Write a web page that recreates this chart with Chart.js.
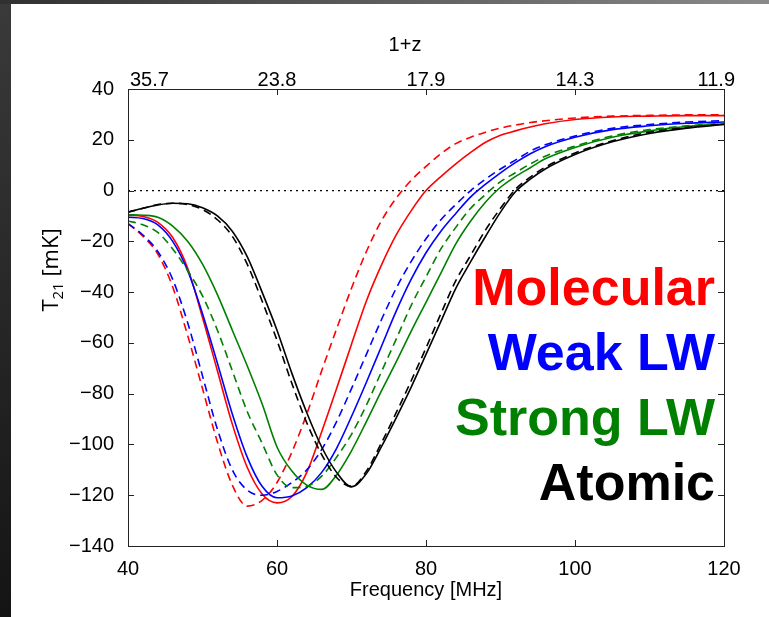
<!DOCTYPE html>
<html>
<head>
<meta charset="utf-8">
<script src="https://cdn.jsdelivr.net/npm/chart.js@4.4.0/dist/chart.umd.min.js"></script>
<style>
html, body { margin: 0; padding: 0; background: #1c1c1c; }
#wrap { width: 769px; height: 617px; }
</style>
</head>
<body>
<div id="wrap"><canvas id="line-chart" width="769" height="617"></canvas></div>
<script>
// frequency grid [MHz]
const freq = [40,42,44,46,48,50,52,54,56,58,60,62,64,66,68,70,72,74,76,78,80,82,84,86,88,90,92,94,96,100,105,110,115,120];

// T21 [mK], solid and dashed for every model
const molSolid  = [-9.7,-10.2,-12.5,-18.5,-30.5,-50,-71,-92,-109,-119.5,-123,-120.5,-111,-95,-78,-60.5,-43.5,-29.5,-17.5,-8,0,5.5,10.5,15,19,21.8,23.5,25,26.3,28,29,29.3,29.5,29.5];
const molDash   = [-13,-18,-25,-38,-57,-78,-99,-116,-124.3,-122,-115,-103,-88,-71,-54.5,-38.5,-24,-12,-3,4,9.5,14.5,18.5,21,23,24.6,25.8,26.8,27.5,28.6,29.3,29.6,29.8,29.8];
const weakSolid = [-10.5,-11,-13.5,-20,-31.5,-48.5,-68,-88,-105,-116.5,-121,-120.3,-117,-111,-101.5,-89,-75.5,-61.5,-47.5,-35,-24.5,-16,-9,-2.5,2.5,7,11,14.5,17.3,21,24,25.5,26.5,27];
const weakDash  = [-13,-17.5,-24,-35,-52,-73,-94,-110,-118,-120,-118.5,-115,-110,-102,-91,-78,-64.5,-51,-38.5,-28,-19,-11.5,-5.5,0,4.5,8.5,12,15.5,18,21.5,24.5,26,27,27.5];
const strongSolid = [-9.5,-9.7,-10.5,-14,-20,-29,-41,-55,-69,-84,-101,-110.5,-116,-117.7,-112,-102.5,-91,-79,-67.5,-55.5,-44,-32.5,-21,-12,-4.5,1.3,5.5,9,12.5,17,21,23.5,25.2,26.3];
const strongDash  = [-12,-13.5,-16.5,-23,-31.5,-41.5,-55,-71,-87,-99.5,-112,-117,-116.5,-112.5,-105,-96,-84.5,-71.5,-58.5,-45.3,-34,-23,-14.5,-7,-1.5,3.5,7,10.5,13.5,17.5,21.5,24,25.5,26.5];
const atomSolid = [-8.5,-7,-5.7,-5,-5.2,-6.8,-10,-16,-26,-40,-55,-72,-87.5,-101,-111,-116.7,-111.5,-101,-89.5,-77.5,-64.5,-51.5,-38.5,-28,-18,-8.5,-0.5,4.5,8.5,14.2,19.2,22.5,24.6,26];
const atomDash  = [-8.5,-7,-5.5,-5,-5.5,-7.5,-11.5,-18,-29,-43.5,-59,-76,-91.5,-104,-113,-116.5,-110.5,-99.5,-87.5,-75,-62,-48.5,-35.5,-25.5,-15.5,-7,0.5,5.3,9.2,14.8,19.6,23,24.8,26.2];

// zero reference line
const zeroX = [40, 120];
const zeroY = [0, 0];

// axis ticks
const xTicks = [40, 60, 80, 100, 120];
const topTickLabels = ['35.7', '23.8', '17.9', '14.3', '11.9'];
const topTitle = '1+z';
const yTicks = [40, 20, 0, -20, -40, -60, -80, -100, -120, -140];

// legend text
const legendNames  = ['Molecular', 'Weak LW', 'Strong LW', 'Atomic'];
const legendColors = ['#ff0000', '#0000ff', '#008000', '#000000'];

const pts = (xs, ys) => xs.map((x, i) => ({x: x, y: ys[i]}));

const fontFamily = "'Liberation Sans', Arial, sans-serif";
const tickFont = {family: fontFamily, size: 20};

function line(data, color, dashed) {
    return {
        data: pts(freq, data),
        borderColor: color,
        borderWidth: 1.6,
        borderDash: dashed ? [8, 5] : [],
        pointRadius: 0,
        fill: false,
        cubicInterpolationMode: 'monotone'
    };
}

const frame = {
    id: 'frame',
    beforeDraw(chart) {
        const c = chart.ctx;
        c.save();
        c.fillStyle = '#ffffff';
        c.fillRect(0, 0, chart.width, chart.height);
        let g = c.createLinearGradient(0, 0, 0, chart.height);
        g.addColorStop(0, '#3a3a3a');
        g.addColorStop(1, '#141414');
        c.fillStyle = g;
        c.fillRect(0, 0, 11, chart.height);
        g = c.createLinearGradient(0, 0, chart.width, 0);
        g.addColorStop(0, '#303030');
        g.addColorStop(1, '#8a8a8a');
        c.fillStyle = g;
        c.fillRect(0, 0, chart.width, 4);
        c.restore();
    },
    afterDraw(chart) {
        const c = chart.ctx;
        const a = chart.chartArea;
        const x = chart.scales.x, y = chart.scales.y;
        c.save();
        c.strokeStyle = '#222';
        c.lineWidth = 1;
        c.strokeRect(Math.round(a.left) + 0.5, Math.round(a.top) + 0.5, Math.round(a.right - a.left), Math.round(a.bottom - a.top));
        c.beginPath();
        xTicks.forEach(v => {
            const px = Math.round(x.getPixelForValue(v)) + 0.5;
            c.moveTo(px, a.bottom); c.lineTo(px, a.bottom - 6);
            c.moveTo(px, a.top); c.lineTo(px, a.top + 6);
        });
        yTicks.forEach(v => {
            const py = Math.round(y.getPixelForValue(v)) + 0.5;
            c.moveTo(a.left, py); c.lineTo(a.left + 6, py);
            c.moveTo(a.right, py); c.lineTo(a.right - 6, py);
        });
        c.stroke();

        // top 1+z axis labels and title
        c.fillStyle = '#000';
        c.font = '20px ' + fontFamily;
        c.textBaseline = 'alphabetic';
        xTicks.forEach((v, i) => {
            const px = x.getPixelForValue(v);
            if (i === 0) { c.textAlign = 'left'; c.fillText(topTickLabels[i], px + 2, a.top - 3); }
            else if (i === xTicks.length - 1) { c.textAlign = 'right'; c.fillText(topTickLabels[i], px + 11, a.top - 3); }
            else { c.textAlign = 'center'; c.fillText(topTickLabels[i], px, a.top - 3); }
        });
        c.textAlign = 'center';
        c.fillText(topTitle, (a.left + a.right) / 2 - 21, 51);

        // y axis title with subscript
        c.translate(50, 270);
        c.rotate(-Math.PI / 2);
        c.textAlign = 'left';
        const big = "22px 'Open Sans', 'DejaVu Sans', sans-serif";
        const small = "15px 'Open Sans', 'DejaVu Sans', sans-serif";
        c.font = big;
        const wT = c.measureText('T').width;
        c.font = small;
        const w21 = c.measureText('21').width;
        c.font = big;
        const wU = c.measureText(' [mK]').width;
        const sx = -(wT + w21 + wU) / 2;
        c.fillText('T', sx, 8);
        c.font = small;
        c.fillText('21', sx + wT, 13);
        c.font = big;
        c.fillText(' [mK]', sx + wT + w21, 8);
        c.restore();

        // model names
        c.save();
        c.font = "bold 52px " + fontFamily;
        c.textAlign = 'right';
        c.textBaseline = 'alphabetic';
        legendNames.forEach((n, i) => {
            c.fillStyle = legendColors[i];
            c.fillText(n, 715, 305 + i * 65);
        });
        c.restore();
    }
};

new Chart(document.getElementById("line-chart"), {
    type: 'line',
    data: {
        datasets: [
            line(atomSolid, '#000000', false),
            line(atomDash, '#000000', true),
            line(strongSolid, '#008000', false),
            line(strongDash, '#008000', true),
            line(weakSolid, '#0000ff', false),
            line(weakDash, '#0000ff', true),
            line(molSolid, '#ff0000', false),
            line(molDash, '#ff0000', true),
            {
                data: pts(zeroX, zeroY),
                borderColor: '#000',
                borderWidth: 1.2,
                borderDash: [2, 4],
                pointRadius: 0,
                fill: false
            }
        ]
    },
    options: {
        responsive: false,
        animation: false,
        layout: {padding: {left: 0, right: 45, top: 0, bottom: 0}},
        plugins: {
            legend: {display: false},
            tooltip: {enabled: false},
            title: {display: false}
        },
        scales: {
            x: {
                type: 'linear',
                position: 'bottom',
                min: 40, max: 120,
                afterBuildTicks: s => { s.ticks = xTicks.map(v => ({value: v})); },
                afterFit: s => { s.height = 71; },
                grid: {display: false},
                border: {display: false},
                ticks: {color: '#000', font: tickFont, padding: 3, maxRotation: 0},
                title: {display: true, text: 'Frequency [MHz]', color: '#000', font: tickFont, padding: {top: 0, bottom: 15}}
            },
            x2: {
                type: 'linear',
                position: 'top',
                min: 40, max: 120,
                afterFit: s => { s.height = 89; },
                grid: {display: false},
                border: {display: false},
                ticks: {display: false}
            },
            y: {
                type: 'linear',
                min: -140, max: 40,
                afterBuildTicks: s => { s.ticks = yTicks.map(v => ({value: v})); },
                afterFit: s => { s.width = 128; },
                grid: {display: false},
                border: {display: false},
                ticks: {
                    color: '#000', font: tickFont, padding: 6,
                    callback: v => String(v).replace('-', '\u2212')
                }
            }
        }
    },
    plugins: [frame]
});
</script>
</body>
</html>
